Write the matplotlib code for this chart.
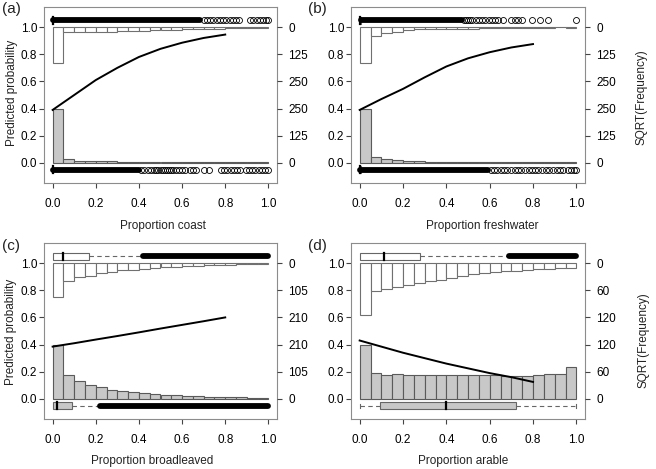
import numpy as np
import matplotlib.pyplot as plt

plt.rcParams['font.family'] = ['Liberation Sans', 'DejaVu Sans']
plt.rcParams['font.size'] = 8.5
plt.rcParams['text.color'] = '#222222'

W, H = 656, 469

# histogram bins (20 bins of width 0.05 on [0, 1])
bin_left = np.arange(20) * 0.05

# SQRT(Frequency) of each bin
a_top = [163, 24.5, 22, 22, 22, 22, 18.5, 18.5, 18.5, 14, 14, 14, 9, 9, 9, 9, 6, 6, 6, 6]
a_bottom = [250, 18.5, 11, 8, 8, 8, 4.6, 4.6, 4.6, 4.6, 3, 3, 3, 3, 3, 3, 3, 3, 3, 3]
b_top = [167, 40, 29, 22, 15, 11, 11, 11, 8, 8, 8, 5.5, 5.5, 5.5, 5.5, 5.5, 5.5, 4.5, 0, 6]
b_bottom = [250, 28, 18, 12, 8, 8, 6, 6, 6, 6, 5, 5, 5, 5, 5, 4, 4, 4, 4, 5]
c_top = [132, 69, 54, 48, 39, 35, 28, 26, 22, 19, 17, 16, 13, 10, 9, 7, 7, 5, 4, 4]
c_bottom = [210, 92, 68, 54, 47, 35, 29, 26, 22, 19, 16, 14, 12, 10, 8, 8, 6, 6, 4, 4]
d_top = [115, 61.5, 58, 53, 48, 44, 38.5, 37, 32.5, 29, 24, 22, 19, 17, 17, 15, 14, 12, 11, 11]
d_bottom = [120, 58, 53, 55, 53, 52, 52, 52, 52, 52, 52, 52, 52, 50, 50, 50, 52, 54, 56, 70]

# right axis labels
a_freq_ticks = [0, 125, 250]
b_freq_ticks = [0, 125, 250]
c_freq_ticks = [0, 105, 210]
d_freq_ticks = [0, 60, 120]

# fitted curves
curve_x = [0.0, 0.1, 0.2, 0.3, 0.4, 0.5, 0.6, 0.7, 0.8]
a_curve = [0.39, 0.50, 0.61, 0.70, 0.78, 0.84, 0.885, 0.92, 0.945]
b_curve = [0.39, 0.47, 0.545, 0.63, 0.71, 0.77, 0.815, 0.85, 0.875]
c_curve = [0.385, 0.41, 0.437, 0.463, 0.49, 0.518, 0.545, 0.572, 0.60]
d_curve = [0.43, 0.385, 0.34, 0.30, 0.26, 0.225, 0.19, 0.16, 0.125]

# boxplots: (q1, median, q3), whisker ends, dense run of outliers, single outliers
a_top_box = (0.0, 0.0, 0.0)
a_top_whisk = (0.0, 0.0)
a_top_dense = (0.0, 0.685)
a_top_pts = [0.70, 0.715, 0.73, 0.745, 0.76, 0.775, 0.79, 0.805, 0.82, 0.835, 0.85, 0.865,
             0.915, 0.93, 0.945, 0.96, 0.975, 0.99, 1.0]
a_bot_box = (0.0, 0.0, 0.0)
a_bot_whisk = (0.0, 0.0)
a_bot_dense = (0.0, 0.40)
a_bot_pts = [0.41, 0.425, 0.44, 0.455, 0.47, 0.48, 0.49, 0.50, 0.51, 0.52, 0.53, 0.54, 0.55,
             0.56, 0.57, 0.585, 0.60, 0.615, 0.635, 0.65, 0.665, 0.70, 0.725, 0.78, 0.795,
             0.81, 0.825, 0.84, 0.855, 0.87, 0.895, 0.91, 0.925, 0.94, 0.955, 0.97, 0.985, 1.0]

b_top_box = (0.0, 0.0, 0.0)
b_top_whisk = (0.0, 0.0)
b_top_dense = (0.008, 0.47)
b_top_pts = [0.48, 0.49, 0.50, 0.51, 0.52, 0.535, 0.55, 0.565, 0.58, 0.595, 0.61, 0.625,
             0.64, 0.66, 0.70, 0.715, 0.73, 0.75, 0.795, 0.83, 0.87, 0.997]
b_bot_box = (0.0, 0.0, 0.0)
b_bot_whisk = (0.0, 0.0)
b_bot_dense = (0.0, 0.59)
b_bot_pts = [0.605, 0.62, 0.635, 0.65, 0.665, 0.68, 0.70, 0.715, 0.73, 0.745, 0.765, 0.78,
             0.795, 0.81, 0.825, 0.84, 0.86, 0.875, 0.89, 0.91, 0.925, 0.94, 0.96, 0.975,
             0.99, 1.0]

c_top_box = (0.0, 0.05, 0.17)
c_top_whisk = (0.0, 0.42)
c_top_dense = (0.42, 1.0)
c_top_pts = []
c_bot_box = (0.0, 0.02, 0.09)
c_bot_whisk = (0.0, 0.22)
c_bot_dense = (0.22, 1.0)
c_bot_pts = []

d_top_box = (0.0, 0.11, 0.28)
d_top_whisk = (0.0, 0.69)
d_top_dense = (0.69, 1.0)
d_top_pts = []
d_bot_box = (0.095, 0.40, 0.72)
d_bot_whisk = (0.0, 1.0)
d_bot_dense = None
d_bot_pts = []

FRAME = '#8c8c8c'
TICK = '#444444'


def draw_box(ax, y, box, whisk, dense, pts, fill, caps):
    q1, med, q3 = box
    h = 0.055
    # whiskers
    if whisk[0] < q1:
        ax.plot([whisk[0], q1], [y, y], color='#666666', lw=0.8, ls=(0, (4, 3)), zorder=3)
    if whisk[1] > q3:
        ax.plot([q3, whisk[1]], [y, y], color='#666666', lw=0.8, ls=(0, (4, 3)), zorder=3)
    if caps:
        for xw in whisk:
            ax.plot([xw, xw], [y - h / 4, y + h / 4], color='#666666', lw=0.8, zorder=3)
    ax.add_patch(plt.Rectangle((q1, y - h / 2), max(q3 - q1, 0.004), h, facecolor=fill,
                               edgecolor='#666666', lw=0.8, zorder=4))
    ax.plot([med, med], [y - h / 2, y + h / 2], color='black', lw=1.6, zorder=5)
    if dense is not None:
        ax.plot(list(dense), [y, y], color='black', lw=4.2, solid_capstyle='round', zorder=6)
    if pts:
        ax.plot(pts, [y] * len(pts), ls='none', marker='o', ms=4.3, mfc='none',
                mec='black', mew=0.6, zorder=6)


def draw_panel(ax, top, bottom, freq_ticks, curve, top_marks, bot_marks, fill_bot_box, caps):
    scale = 0.4 / freq_ticks[-1]
    ax.set_xlim(-0.04, 1.04)
    ax.set_ylim(-0.148, 1.148)
    top_h = np.array(top) * scale
    bot_h = np.array(bottom) * scale
    ax.bar(bin_left, top_h, width=0.05, bottom=1 - top_h, align='edge',
           facecolor='white', edgecolor='#707070', lw=0.8, zorder=2)
    ax.bar(bin_left, bot_h, width=0.05, bottom=0, align='edge',
           facecolor='#c8c8c8', edgecolor='#5a5a5a', lw=0.8, zorder=2)
    ax.plot(curve_x, curve, color='black', lw=1.4, zorder=5)
    draw_box(ax, 1.05, *top_marks, fill='white', caps=False)
    draw_box(ax, -0.05, *bot_marks, fill='#c8c8c8' if fill_bot_box else 'white', caps=caps)

    ax.set_xticks([0, 0.2, 0.4, 0.6, 0.8, 1.0])
    ax.set_xticklabels(['0.0', '0.2', '0.4', '0.6', '0.8', '1.0'])
    ax.set_yticks([0, 0.2, 0.4, 0.6, 0.8, 1.0])
    ax.set_yticklabels(['0.0', '0.2', '0.4', '0.6', '0.8', '1.0'])
    ax.tick_params(axis='x', length=3.5, width=0.8, color=TICK, pad=7)
    ax.tick_params(axis='y', length=3.5, width=0.8, color=TICK, pad=1.5)
    for s in ax.spines.values():
        s.set_color(FRAME)
        s.set_linewidth(0.8)

    tw = ax.twinx()
    tw.set_ylim(ax.get_ylim())
    pos = [v * scale for v in freq_ticks] + [1 - v * scale for v in freq_ticks]
    labs = [str(v) for v in freq_ticks] * 2
    tw.set_yticks(pos)
    tw.set_yticklabels(labs)
    tw.tick_params(axis='y', length=3.5, width=0.8, color=TICK, pad=4.5)
    for s in tw.spines.values():
        s.set_visible(False)


fig = plt.figure(figsize=(W / 100, H / 100), dpi=100)


def px_axes(l, t, r, b):
    return fig.add_axes([l / W, 1 - b / H, (r - l) / W, (b - t) / H])


ax_a = px_axes(44, 7, 277, 183)
ax_b = px_axes(351, 7, 585, 183)
ax_c = px_axes(44, 243, 277, 419)
ax_d = px_axes(351, 243, 585, 419)

draw_panel(ax_a, a_top, a_bottom, a_freq_ticks, a_curve,
           (a_top_box, a_top_whisk, a_top_dense, a_top_pts),
           (a_bot_box, a_bot_whisk, a_bot_dense, a_bot_pts), False, False)
draw_panel(ax_b, b_top, b_bottom, b_freq_ticks, b_curve,
           (b_top_box, b_top_whisk, b_top_dense, b_top_pts),
           (b_bot_box, b_bot_whisk, b_bot_dense, b_bot_pts), False, False)
draw_panel(ax_c, c_top, c_bottom, c_freq_ticks, c_curve,
           (c_top_box, c_top_whisk, c_top_dense, c_top_pts),
           (c_bot_box, c_bot_whisk, c_bot_dense, c_bot_pts), True, False)
draw_panel(ax_d, d_top, d_bottom, d_freq_ticks, d_curve,
           (d_top_box, d_top_whisk, d_top_dense, d_top_pts),
           (d_bot_box, d_bot_whisk, d_bot_dense, d_bot_pts), True, True)


def ftext(x, y, s, **kw):
    fig.text(x / W, 1 - y / H, s, ha='center', va='center', **kw)


ftext(11, 9, '(a)', fontsize=11)
ftext(317, 9, '(b)', fontsize=11)
ftext(11, 246, '(c)', fontsize=11)
ftext(317, 246, '(d)', fontsize=11)

ftext(163, 226, 'Proportion coast')
ftext(482, 226, 'Proportion freshwater')
ftext(152, 461, 'Proportion broadleaved')
ftext(463, 461, 'Proportion arable')

ftext(12, 93, 'Predicted probability', rotation=90)
ftext(11, 332, 'Predicted probability', rotation=90)
ftext(641, 97, 'SQRT(Frequency)', rotation=90)
ftext(644, 340, 'SQRT(Frequency)', rotation=90)

fig.savefig('out.png', dpi=100)
